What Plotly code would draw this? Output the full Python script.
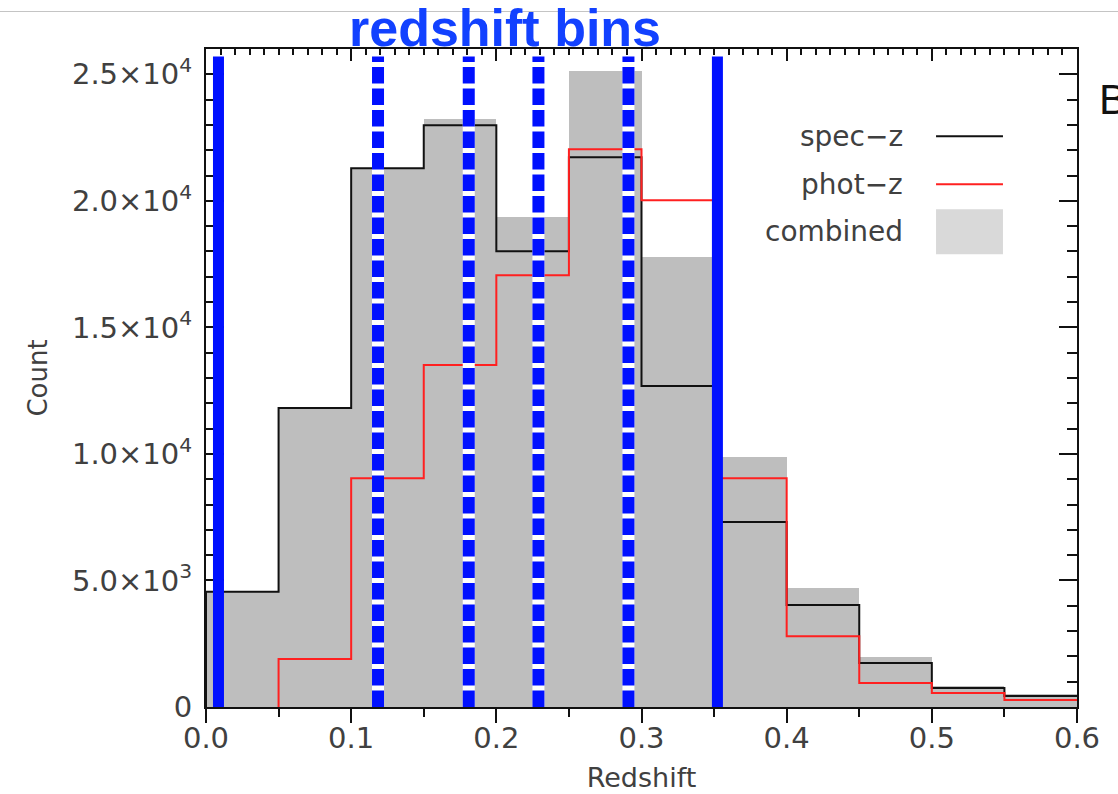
import plotly.graph_objects as go

# Histogram bins in redshift (width 0.05)
bin_edges = [0.0, 0.05, 0.10, 0.15, 0.20, 0.25, 0.30, 0.35, 0.40, 0.45, 0.50, 0.55, 0.60]

# Counts per bin
spec_z = [4550, 11810, 21290, 22990, 18010, 21720, 12680, 7310, 4030, 1740, 750, 435]
phot_z = [0, 1900, 9040, 13510, 17060, 22040, 20020, 9040, 2800, 950, 550, 280]
combined = [4550, 11810, 21290, 23220, 19350, 25120, 17770, 9870, 4700, 1975, 830, 510]

# Redshift-bin boundaries used in the analysis
outer_bounds = [0.0086, 0.3523]
inner_bounds = [0.1185, 0.181, 0.229, 0.291]
bound_top = 25700

y_tickvals = [0, 5000, 10000, 15000, 20000, 25000]
y_ticktext = ["0", "5.0×10<sup>3</sup>", "1.0×10<sup>4</sup>", "1.5×10<sup>4</sup>",
              "2.0×10<sup>4</sup>", "2.5×10<sup>4</sup>"]

GRAY = "#bebebe"
BLUE = "#0010ff"
TXT = "#404040"
FONT = "DejaVu Sans"

centers = [(a + b) / 2 for a, b in zip(bin_edges[:-1], bin_edges[1:])]
widths = [b - a for a, b in zip(bin_edges[:-1], bin_edges[1:])]


def step_xy(values):
    """Step outline of a histogram, starting at the first non-empty bin."""
    first = next(i for i, v in enumerate(values) if v > 0)
    xs = [bin_edges[first]] + list(bin_edges[first:])
    ys = [0] + list(values[first:]) + [values[-1]]
    return xs, ys


fig = go.Figure()

fig.add_trace(go.Bar(x=centers, y=combined, width=widths, marker=dict(color=GRAY, line_width=0),
                     showlegend=False, hoverinfo="skip"))

sx, sy = step_xy(spec_z)
fig.add_trace(go.Scatter(x=sx, y=sy, mode="lines", line=dict(color="#111111", width=2, shape="hv"),
                         showlegend=False))
px_, py_ = step_xy(phot_z)
fig.add_trace(go.Scatter(x=px_, y=py_, mode="lines", line=dict(color="#ff2020", width=2, shape="hv"),
                         showlegend=False))

# Solid outer boundaries
for z in outer_bounds:
    fig.add_trace(go.Scatter(x=[z, z], y=[0, bound_top], mode="lines",
                             line=dict(color=BLUE, width=11), showlegend=False, hoverinfo="skip"))

# Dashed inner boundaries: white underlay with blue dashes on top
for z in inner_bounds:
    fig.add_trace(go.Scatter(x=[z, z], y=[0, bound_top], mode="lines",
                             line=dict(color="white", width=12), showlegend=False, hoverinfo="skip"))
    fig.add_trace(go.Scatter(x=[z, z], y=[0, bound_top], mode="lines",
                             line=dict(color=BLUE, width=12, dash="16.5px,5px"),
                             showlegend=False, hoverinfo="skip"))

# Anchor trace for the top axis
fig.add_trace(go.Scatter(x=[0.0], y=[0], xaxis="x2", mode="markers", marker=dict(opacity=0),
                         showlegend=False, hoverinfo="skip"))

# Legend drawn inside the plot area
leg_x0, leg_x1, leg_text_x = 0.5029, 0.549, 0.4815
legend_rows = [("spec−z", 22550, "#111111"), ("phot−z", 20655, "#ff2020")]
for label, yv, col in legend_rows:
    fig.add_shape(type="line", x0=leg_x0, x1=leg_x1, y0=yv, y1=yv, xref="x", yref="y",
                  line=dict(color=col, width=2))
    fig.add_annotation(x=leg_text_x, y=yv, xref="x", yref="y", text=label, showarrow=False,
                       xanchor="right", yanchor="middle", font=dict(family=FONT, size=28, color=TXT))
fig.add_shape(type="rect", x0=leg_x0, x1=leg_x1, y0=17890, y1=19670, xref="x", yref="y",
              line_width=0, fillcolor="#d9d9d9")
fig.add_annotation(x=leg_text_x, y=18780, xref="x", yref="y", text="combined", showarrow=False,
                   xanchor="right", yanchor="middle", font=dict(family=FONT, size=28, color=TXT))

# Title and side label
fig.add_annotation(x=0.3433, y=1.032, xref="paper", yref="paper", text="<b>redshift bins</b>",
                   showarrow=False, xanchor="center", yanchor="middle",
                   font=dict(family="Liberation Sans", size=52, color="#1241ff"))
fig.add_annotation(x=1.0225, y=0.9225, xref="paper", yref="paper", text="B", showarrow=False,
                   xanchor="left", yanchor="middle",
                   font=dict(family="Liberation Sans", size=42, color="#111111"))
fig.add_shape(type="line", xref="paper", yref="paper", x0=-0.24, x1=1.05, y0=1.057, y1=1.057,
              line=dict(color="#c4c4c4", width=1))

fig.update_layout(
    width=1118, height=794,
    margin=dict(l=206, r=41, t=49, b=87),
    paper_bgcolor="white", plot_bgcolor="white",
    bargap=0, showlegend=False,
    xaxis=dict(range=[0, 0.6], tickvals=[0, 0.1, 0.2, 0.3, 0.4, 0.5, 0.6],
               ticktext=["0.0", "0.1", "0.2", "0.3", "0.4", "0.5", "0.6"],
               ticks="outside", ticklen=14, tickwidth=2, tickcolor="#111111",
               minor=dict(dtick=0.05, tick0=0, ticks="outside", ticklen=8, tickwidth=2, tickcolor="#111111"),
               showline=True, linecolor="#111111", linewidth=2, showgrid=False, zeroline=False,
               tickfont=dict(family=FONT, size=29, color=TXT), ticklabelstandoff=-10,
               title=dict(text="Redshift", font=dict(family=FONT, size=27, color=TXT), standoff=14),
               automargin=False, layer="above traces"),
    xaxis2=dict(range=[0, 0.6], overlaying="x", side="top", anchor="y", showticklabels=False,
                tickvals=[0, 0.1, 0.2, 0.3, 0.4, 0.5, 0.6],
                ticks="inside", ticklen=12, tickwidth=2, tickcolor="#111111",
                minor=dict(dtick=0.01, tick0=0, ticks="inside", ticklen=6, tickwidth=2, tickcolor="#111111"),
                showline=True, linecolor="#111111", linewidth=2, showgrid=False, zeroline=False,
                automargin=False, layer="above traces"),
    yaxis=dict(range=[0, 26000], tickvals=y_tickvals, ticktext=y_ticktext,
               ticks="inside", ticklen=18, tickwidth=2, tickcolor="#111111",
               minor=dict(dtick=1000, tick0=0, ticks="inside", ticklen=10, tickwidth=2, tickcolor="#111111"),
               showline=True, mirror="ticks", linecolor="#111111", linewidth=2,
               showgrid=False, zeroline=False,
               tickfont=dict(family=FONT, size=29, color=TXT), ticklabelstandoff=6,
               title=dict(text="Count", font=dict(family=FONT, size=26, color=TXT), standoff=17),
               automargin=False, layer="below traces"),
)

fig.write_html("out.html")
